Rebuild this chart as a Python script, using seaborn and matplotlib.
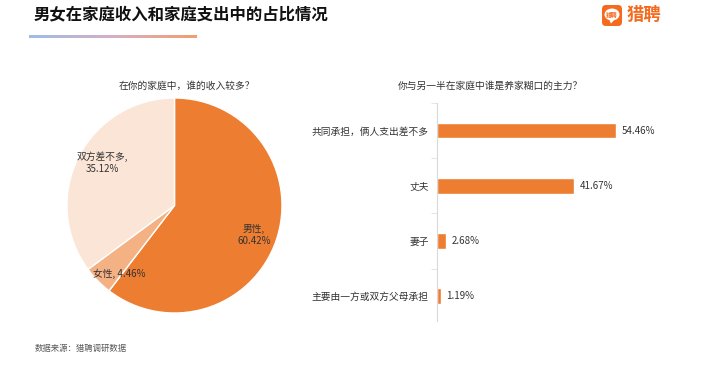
import matplotlib
matplotlib.use("Agg")
import matplotlib.pyplot as plt
import numpy as np
import pandas as pd
import seaborn as sns
from matplotlib.colors import LinearSegmentedColormap
from matplotlib.patches import FancyBboxPatch, Ellipse, Polygon

# data
pie_labels = ['男性', '女性', '双方差不多']
pie_values = [60.42, 4.46, 35.12]
pie_colors = ['#ED7D31', '#F4B183', '#FBE5D6']

bar_labels = ['共同承担，俩人支出差不多', '丈夫', '妻子', '主要由一方或双方父母承担']
bar_values = [54.46, 41.67, 2.68, 1.19]

title = '男女在家庭收入和家庭支出中的占比情况'
pie_title = '在你的家庭中，谁的收入较多？'
bar_title = '你与另一半在家庭中谁是养家糊口的主力？'
source = '数据来源：猎聘调研数据'

sns.set_theme(style="white")
plt.rcParams['font.family'] = ['Noto Sans CJK SC', 'DejaVu Sans']
TXT = '#333333'
LOGO = '#F46A1E'

W, H = 703, 370
fig = plt.figure(figsize=(W / 100, H / 100), dpi=100)


def px(x0, y0, x1, y1):
    # pixel box -> figure fraction rect
    return [x0 / W, 1 - y1 / H, (x1 - x0) / W, (y1 - y0) / H]


# header
fig.text(34 / W, 1 - 14.5 / H, title, fontsize=11.8, fontweight='bold', color='#111111',
         va='center', ha='left')
gax = fig.add_axes(px(29, 35.3, 197, 37.7))
grad = LinearSegmentedColormap.from_list('g', ['#9DBDE6', '#D6AFC4', '#F29E70'])
gax.imshow(np.linspace(0, 1, 200)[None, :], aspect='auto', cmap=grad)
gax.axis('off')

# logo
lax = fig.add_axes(px(590, 0, 700, 32))
lax.set_xlim(590, 700)
lax.set_ylim(32, 0)
lax.axis('off')
lax.add_patch(FancyBboxPatch((602, 5), 20, 21, boxstyle='round,pad=0,rounding_size=4',
                             fc=LOGO, ec='none'))
lax.add_patch(Ellipse((612, 14.5), 15, 12, fc='white', ec='none'))
lax.add_patch(Polygon([[609, 19], [615, 19], [611, 23.5]], closed=True, fc='white', ec='none'))
lax.text(612, 14.5, '猎聘', fontsize=4.2, color=LOGO, ha='center', va='center',
         fontweight='bold')
fig.text(627 / W, 1 - 15 / H, '猎聘', fontsize=12.5, color=LOGO, ha='left', va='center',
         fontweight='bold')

# pie
pax = fig.add_axes(px(67, 98, 282, 313))
wedges, texts = pax.pie(pie_values, colors=pie_colors, startangle=90, counterclock=False,
                        labels=[f'{l},\n{v:.2f}%' if v > 10 else f'{l}, {v:.2f}%'
                                for l, v in zip(pie_labels, pie_values)],
                        labeldistance=0.8,
                        wedgeprops=dict(edgecolor='white', linewidth=1),
                        textprops=dict(fontsize=7, color=TXT))
# label placement tweaks: (distance, angle offset in degrees)
label_tweaks = [(0.79, -1.5), (0.82, 6.5), (0.78, -4)]
for w, t, (d, off) in zip(wedges, texts, label_tweaks):
    ang = np.deg2rad((w.theta1 + w.theta2) / 2 + off)
    t.set_position((d * np.cos(ang), d * np.sin(ang)))
    t.set_ha('center')
    t.set_va('center')
    t.set_multialignment('center')
pax.set_xlim(-1, 1)
pax.set_ylim(-1, 1)
pax.set_aspect('equal')
fig.text(187 / W, 1 - 86 / H, pie_title, fontsize=7, color=TXT, ha='center', va='center')

# bars
bax = fig.add_axes(px(437, 103, 634, 321))
df = pd.DataFrame({'cat': bar_labels, 'val': bar_values})
sns.barplot(data=df, x='val', y='cat', ax=bax, color='#ED7D31', saturation=1,
            width=0.28, orient='h')
bax.set_xlim(0, 60)
bax.set_ylim(3.45, -0.5)
for c in bax.containers:
    bax.bar_label(c, fmt='%.2f%%', padding=4, fontsize=7, color=TXT)
bax.set_xlabel('')
bax.set_ylabel('')
bax.set_xticks([])
for s in ['top', 'right', 'bottom']:
    bax.spines[s].set_visible(False)
bax.spines['left'].set_color('#D9D9D9')
bax.spines['left'].set_linewidth(0.8)
bax.tick_params(axis='y', which='major', length=0, labelsize=7, labelcolor=TXT, pad=6)
bax.set_yticks([-0.5, 0.5, 1.5, 2.5], minor=True)
bax.tick_params(axis='y', which='minor', length=4, color='#E6E6E6', width=0.8, left=True)
fig.text(490 / W, 1 - 86 / H, bar_title, fontsize=7, color=TXT, ha='center', va='center')

# source
fig.text(35 / W, 1 - 348 / H, source, fontsize=6, color='#595959', ha='left', va='center')

fig.savefig('out.png', dpi=100)
